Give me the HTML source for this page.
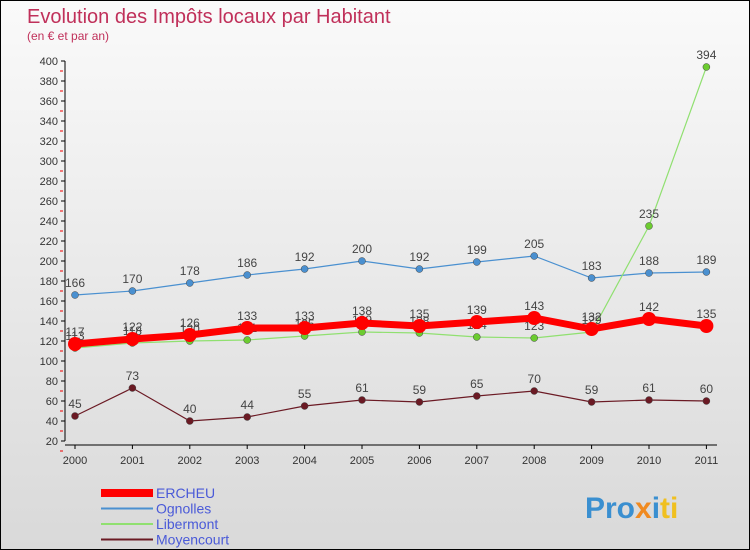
<!DOCTYPE html>
<html><head><meta charset="utf-8"><style>
body{margin:0}
#c{width:748px;height:548px;border:1px solid #000;background:linear-gradient(#fafafa,#d9d9d9);position:relative;overflow:hidden;font-family:"Liberation Sans",sans-serif}
</style></head><body>
<div id="c">
<svg width="748" height="548">
<text x="26" y="22" font-size="20" fill="#c0305a">Evolution des Impôts locaux par Habitant</text>
<text x="26" y="39" font-size="12" fill="#c0305a">(en € et par an)</text>
<g id="axes"></g><g id="series"></g><g id="legend"></g>
<text x="584" y="517" font-size="30" font-weight="bold"><tspan fill="#3a8fd0">Pro</tspan><tspan fill="#f08a20">x</tspan><tspan fill="#3a8fd0">i</tspan><tspan fill="#f0c020">ti</tspan></text>
</svg></div>
<script>
const years=["2000","2001","2002","2003","2004","2005","2006","2007","2008","2009","2010","2011"];
const ercheu=[117,122,126,133,133,138,135,139,143,132,142,135];
const ognolles=[166,170,178,186,192,200,192,199,205,183,188,189];
const libermont=[113,118,120,121,125,129,128,124,123,129,235,394];
const moyencourt=[45,73,40,44,55,61,59,65,70,59,61,60];
const yTicks=[20,40,60,80,100,120,140,160,180,200,220,240,260,280,300,320,340,360,380,400];
const NS="http://www.w3.org/2000/svg";
const x=i=>74+i*57.4, y=v=>460-v;
function mk(t,a,p){const e=document.createElementNS(NS,t);for(const k in a)e.setAttribute(k,a[k]);p.appendChild(e);return e;}
const ax=document.getElementById('axes');
const yl=mk('line',{x1:64,y1:y(400),x2:64,y2:y(20),stroke:'#000'},ax);


mk('line',{x1:64,y1:444,x2:716,y2:444,stroke:'#000'},ax);
yTicks.forEach(v=>{
 mk('line',{x1:60,y1:y(v),x2:64,y2:y(v),stroke:'#000'},ax);
 mk('line',{x1:59,y1:y(v)+10,x2:62,y2:y(v)+10,stroke:'#e00'},ax);
 const t=mk('text',{x:57,y:y(v)+4,'font-size':11,fill:'#333','text-anchor':'end'},ax);t.textContent=v;
 
 
});
years.forEach((yr,i)=>{
 mk('line',{x1:x(i),y1:444,x2:x(i),y2:448,stroke:'#000'},ax);
 const t=mk('text',{x:x(i),y:463,'font-size':11,fill:'#333','text-anchor':'middle'},ax);t.textContent=yr;
 
 
});
const sg=document.getElementById('series');
const defs=[
 {n:'moyencourt',d:moyencourt,c:'#6b1a24',w:1.2,r:3.5,f:'#6b1a24'},
 {n:'ognolles',d:ognolles,c:'#4a90d0',w:1.2,r:3.5,f:'#4a90d0'},
 {n:'libermont',d:libermont,c:'#90e070',w:1.2,r:3.5,f:'#6ccc30'},
 {n:'ercheu',d:ercheu,c:'#f00',w:7,r:7,f:'#f00'}];
defs.forEach(s=>{
 const g=mk('g',{},sg);
 
 
 mk('polyline',{points:s.d.map((v,i)=>x(i)+','+y(v)).join(' '),fill:'none',stroke:s.c,'stroke-width':s.w},g);
 s.d.forEach((v,i)=>{
  const p=mk('circle',{cx:x(i),cy:y(v),r:s.r,fill:s.f,stroke:s.n=='ercheu'?'none':'#444','stroke-width':0.5},g);
  
  
  const t=mk('text',{x:x(i),y:y(v)-8,'font-size':12,fill:'#444','text-anchor':'middle'},g);t.textContent=v;
  
  
 });
});
const lg=document.getElementById('legend');
[['ERCHEU','#f00',8],['Ognolles','#4a90d0',2],['Libermont','#90e070',2],['Moyencourt','#6b1a24',2]].forEach((e,i)=>{
 const g=mk('g',{},lg);
 
 
 const yy=492+i*15.5;
 mk('line',{x1:100,y1:yy,x2:152,y2:yy,stroke:e[1],'stroke-width':e[2]},g);
 const t=mk('text',{x:155,y:yy+5,'font-size':14,fill:'#4a5ad8'},g);t.textContent=e[0];
});
</script>
</body></html>
